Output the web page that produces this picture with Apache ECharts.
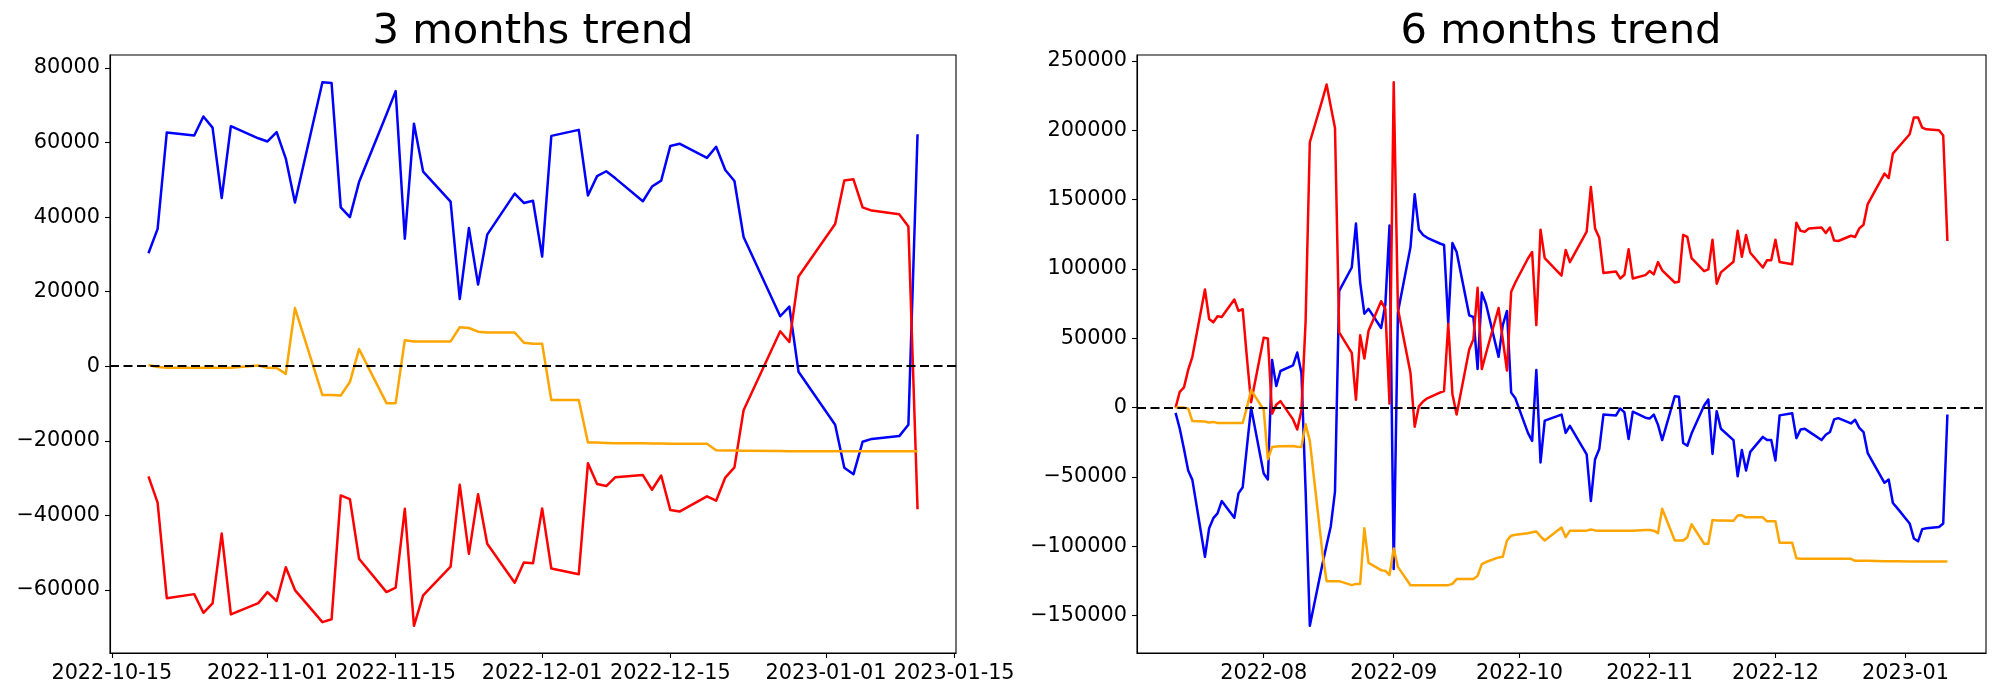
<!DOCTYPE html>
<html>
<head>
<meta charset="utf-8">
<script src="https://cdn.jsdelivr.net/npm/echarts@6/dist/echarts.min.js"></script>
<style>
html,body{margin:0;padding:0;background:#fff;}
#chart{width:2000px;height:700px;}
</style>
</head>
<body>
<div id="chart"></div>
<script>
// ---------------- DATA ----------------
const leftDates = ['2022-10-19','2022-10-20','2022-10-21','2022-10-24','2022-10-25','2022-10-26','2022-10-27','2022-10-28','2022-10-31',
'2022-11-01','2022-11-02','2022-11-03','2022-11-04','2022-11-07','2022-11-08','2022-11-09','2022-11-10','2022-11-11','2022-11-14','2022-11-15',
'2022-11-16','2022-11-17','2022-11-18','2022-11-21','2022-11-22','2022-11-23','2022-11-24','2022-11-25','2022-11-28','2022-11-29','2022-11-30',
'2022-12-01','2022-12-02','2022-12-05','2022-12-06','2022-12-07','2022-12-08','2022-12-09','2022-12-12','2022-12-13','2022-12-14','2022-12-15',
'2022-12-16','2022-12-19','2022-12-20','2022-12-21','2022-12-22','2022-12-23','2022-12-27','2022-12-28','2022-12-29',
'2023-01-02','2023-01-03','2023-01-04','2023-01-05','2023-01-06','2023-01-09','2023-01-10','2023-01-11'];
const leftBlue = [30300,36840,62670,61900,67000,64000,45100,64400,61150,
60300,62800,55700,43900,76200,76000,42600,40000,49400,67600,73800,
34200,65070,52200,44150,18000,37060,21900,35300,46300,43800,44400,
29400,61800,63400,45800,51000,52300,50400,44250,48200,49800,59100,
59700,55900,58860,52650,49700,34650,13400,16000,-1500,
-15700,-27250,-29000,-20270,-19500,-18750,-15700,62240];
const leftRed = [-29540,-36600,-62240,-61150,-66160,-63660,-44900,-66600,-63550,
-60600,-63000,-53950,-60060,-68670,-67900,-34660,-35640,-51670,-60600,-59400,
-38260,-69650,-61480,-53740,-31830,-50360,-34340,-47630,-58100,-52650,-52870,
-38150,-54280,-55800,-26050,-31600,-32160,-29760,-29210,-33140,-29320,-38600,
-39000,-34900,-36080,-29870,-27140,-11800,9370,6500,24070,
38150,49800,50140,42620,41750,40770,37500,-38370];
const leftOrange = [330,-200,-440,-440,-400,-400,-400,-400,200,
-440,-500,-2070,15590,-7740,-7740,-7850,-4250,4580,-9920,-9920,
6980,6650,6650,6650,10460,10250,9270,9050,9050,6320,6000,
6000,-9050,-9050,-20490,-20490,-20600,-20700,-20700,-20750,-20750,-20800,
-20800,-20800,-22560,-22600,-22600,-22650,-22750,-22800,-22800,
-22800,-22800,-22800,-22800,-22800,-22800,-22800,-22800];
const leftXTicks = ['2022-10-15','2022-11-01','2022-11-15','2022-12-01','2022-12-15','2023-01-01','2023-01-15'];
const leftYTicks = [-60000,-40000,-20000,0,20000,40000,60000,80000];

const rightDates = ['2022-07-11','2022-07-12','2022-07-13','2022-07-14','2022-07-15','2022-07-18','2022-07-19','2022-07-20','2022-07-21','2022-07-22',
'2022-07-25','2022-07-26','2022-07-27','2022-07-28','2022-07-29','2022-08-01','2022-08-02','2022-08-03','2022-08-04','2022-08-05',
'2022-08-08','2022-08-09','2022-08-10','2022-08-11','2022-08-12','2022-08-15','2022-08-16','2022-08-17','2022-08-18','2022-08-19',
'2022-08-22','2022-08-23','2022-08-24','2022-08-25','2022-08-26','2022-08-29','2022-08-30','2022-08-31','2022-09-01','2022-09-02',
'2022-09-05','2022-09-06','2022-09-07','2022-09-08','2022-09-09','2022-09-12','2022-09-13','2022-09-14','2022-09-15','2022-09-16',
'2022-09-19','2022-09-20','2022-09-21','2022-09-22','2022-09-23','2022-09-26','2022-09-27','2022-09-28','2022-09-29','2022-09-30',
'2022-10-03','2022-10-04','2022-10-05','2022-10-06','2022-10-07','2022-10-11','2022-10-12','2022-10-13','2022-10-17','2022-10-18',
'2022-10-19','2022-10-20','2022-10-21','2022-10-24','2022-10-25','2022-10-26','2022-10-27','2022-10-28','2022-10-31','2022-11-01',
'2022-11-02','2022-11-03','2022-11-04','2022-11-07','2022-11-08','2022-11-09','2022-11-10','2022-11-11','2022-11-14','2022-11-15',
'2022-11-16','2022-11-17','2022-11-18','2022-11-21','2022-11-22','2022-11-23','2022-11-24','2022-11-25','2022-11-28','2022-11-29',
'2022-11-30','2022-12-01','2022-12-02','2022-12-05','2022-12-06','2022-12-07','2022-12-08','2022-12-09','2022-12-12','2022-12-13',
'2022-12-14','2022-12-15','2022-12-16','2022-12-19','2022-12-20','2022-12-21','2022-12-22','2022-12-23','2022-12-27','2022-12-28',
'2022-12-29','2022-12-30','2023-01-02','2023-01-03','2023-01-04','2023-01-05','2023-01-06','2023-01-09','2023-01-10','2023-01-11'];
const rightBlue = [-3800,-15200,-29900,-45400,-52100,-107500,-87000,-79700,-76200,-67400,
-79400,-61800,-57400,-28400,0,-47500,-51800,34300,15500,26400,
30500,39700,25000,-60000,-157300,-113000,-99000,-85500,-60600,84100,
101000,132700,90200,67700,71200,57400,74100,131200,-116300,68800,
115700,153800,128300,124500,122400,118300,117200,60900,118600,112200,
66500,65300,27800,82900,74700,36600,59500,69700,10800,6700,
-18200,-24000,27200,-39500,-9400,-5000,-18200,-13200,-33700,-67400,
-37200,-29900,-5000,-5600,-600,-3500,-22600,-2900,-7300,-7900,
-5000,-12300,-23400,8200,7900,-25500,-27500,-18700,1500,5900,
-33400,-2600,-15200,-23400,-49500,-30500,-45400,-31900,-21100,-23400,
-23400,-38100,-5600,-4100,-22000,-15800,-15200,-17300,-23400,-19600,
-17600,-8500,-7600,-11400,-8800,-14600,-17600,-32800,-54200,-51800,
-68800,-72300,-83500,-94300,-96400,-87600,-87000,-86100,-83500,-5000];
const rightRed = [0,11400,14600,27200,36600,85200,63900,61500,65900,65300,
77900,69700,70900,36000,3800,50400,49800,-4400,2100,4700,
-8500,-15800,-2000,62400,191300,222000,232900,217000,201500,54200,
39500,5600,52100,35400,55400,76700,71200,2900,234600,71200,
24900,-13800,900,4400,6700,10800,12000,60300,9700,-5000,
41900,49200,86400,27800,39000,71800,49200,26700,83500,90200,
107500,112200,59500,128300,107800,95200,113600,104900,126800,159000,
129200,122400,97000,98100,93100,95800,114200,93100,95500,98400,
96100,104900,99000,90200,90800,124500,123000,107800,98400,99600,
121000,89300,97500,105200,127500,108700,124500,111600,101000,106300,
106300,121000,104900,103400,133300,127400,126800,129200,129800,125900,
129800,120400,120100,123900,123000,129200,131800,146700,168700,165500,
183100,186600,197100,209100,209100,201800,200600,200000,196200,120100];
const rightOrange = [0,0,0,-600,-9700,-10000,-10800,-10300,-11100,-11100,
-11100,-11100,-11100,0,12600,-1500,-37200,-28400,-28100,-27800,
-27600,-28200,-28400,-12000,-24000,-104600,-125100,-125100,-125100,-125100,
-128000,-127100,-127100,-87000,-111900,-117200,-117700,-120700,-101600,-114800,
-128000,-128000,-128000,-128000,-128000,-128000,-128000,-128000,-127100,-123600,
-123600,-123600,-121300,-112800,-111300,-108000,-107500,-95800,-92300,-91700,
-90500,-89900,-89300,-92800,-95800,-86400,-93400,-88700,-88700,-87900,
-88500,-88700,-88700,-88700,-88700,-88700,-88700,-88700,-88200,-88200,
-88700,-90500,-72900,-95800,-95800,-95800,-93400,-84100,-98100,-98100,
-81100,-81400,-81400,-81600,-77800,-77600,-79100,-79100,-79100,-82000,
-82000,-82000,-97500,-97500,-108600,-109000,-109000,-109000,-109000,-109000,
-109000,-109000,-109000,-109000,-110400,-110400,-110400,-110400,-110700,-110700,
-110700,-110700,-111000,-111000,-111000,-111000,-111000,-111000,-111000,-111000];
const rightXTicks = ['2022-08-01','2022-09-01','2022-10-01','2022-11-01','2022-12-01','2023-01-01'];
const rightYTicks = [-150000,-100000,-50000,0,50000,100000,150000,200000,250000];

const titles = ['3 months trend', '6 months trend'];
const seriesColors = ['#0000ff', '#ff0000', '#ffa500'];

// ---------------- HELPERS ----------------
const FONT = 'DejaVu Sans';
function ts(s) { const p = s.split('-').map(Number); return Date.UTC(p[0], p[1] - 1, p[2]); }
function pad2(n) { return (n < 10 ? '0' : '') + n; }
function fmtDay(v) { const d = new Date(v); return d.getUTCFullYear() + '-' + pad2(d.getUTCMonth() + 1) + '-' + pad2(d.getUTCDate()); }
function fmtMonth(v) { const d = new Date(v); return d.getUTCFullYear() + '-' + pad2(d.getUTCMonth() + 1); }
function fmtNum(v) { return v < 0 ? '\u2212' + (-v) : String(v); }
function padRange(arr) {
  let mn = Infinity, mx = -Infinity;
  arr.forEach(v => { if (v < mn) mn = v; if (v > mx) mx = v; });
  const r = mx - mn; return [mn - 0.05 * r, mx + 0.05 * r];
}
function pairs(dates, vals) { return dates.map((d, i) => [ts(d), vals[i]]); }

const leftXR = padRange(leftDates.map(ts));
const leftYR = padRange(leftBlue.concat(leftRed, leftOrange));
const rightXR = padRange(rightDates.map(ts));
const rightYR = padRange(rightBlue.concat(rightRed, rightOrange));

const labelStyle = { fontFamily: FONT, fontSize: 20.8, color: '#000' };
function xAxis(idx, range, ticks, fmt) {
  const vals = ticks.map(ts);
  return {
    type: 'value', gridIndex: idx, min: range[0], max: range[1], position: 'bottom',
    axisLine: { show: true, onZero: false, lineStyle: { color: '#000', width: 1.1 } },
    axisTick: { show: true, length: 5, inside: false, customValues: vals, lineStyle: { color: '#000', width: 1.1 } },
    axisLabel: Object.assign({ customValues: vals, margin: 10, formatter: fmt, hideOverlap: false, showMinLabel: true, showMaxLabel: true }, labelStyle),
    splitLine: { show: false }
  };
}
function yAxis(idx, range, ticks) {
  return {
    type: 'value', gridIndex: idx, min: range[0], max: range[1], position: 'left',
    axisLine: { show: true, onZero: false, lineStyle: { color: '#000', width: 1.1 } },
    axisTick: { show: true, length: 5, customValues: ticks, lineStyle: { color: '#000', width: 1.1 } },
    axisLabel: Object.assign({ customValues: ticks, margin: 10, formatter: fmtNum, showMinLabel: true, showMaxLabel: true }, labelStyle),
    splitLine: { show: false }
  };
}
function lineSeries(idx, dates, vals, color) {
  return {
    type: 'line', xAxisIndex: idx, yAxisIndex: idx, data: pairs(dates, vals),
    showSymbol: false, symbol: 'none', animation: false,
    lineStyle: { color: color, width: 2.5, join: 'round', cap: 'butt' }, itemStyle: { color: color }
  };
}
function zeroLine(idx) {
  return {
    type: 'line', xAxisIndex: idx, yAxisIndex: idx, data: [], animation: false, z: 5,
    markLine: {
      silent: true, symbol: ['none', 'none'], animation: false, label: { show: false },
      lineStyle: { color: '#000', width: 2, type: [9, 4.5] },
      data: [{ yAxis: 0 }]
    }
  };
}

const grids = [
  { left: 110, top: 55, width: 846, height: 598, show: true, borderColor: '#000', borderWidth: 1.1, backgroundColor: 'transparent' },
  { left: 1137, top: 55, width: 849, height: 598, show: true, borderColor: '#000', borderWidth: 1.1, backgroundColor: 'transparent' }
];

const titleStyle = { fontFamily: FONT, fontSize: 41.7, fontWeight: 'normal', color: '#000' };
const option = {
  backgroundColor: '#fff',
  animation: false,
  title: [
    { text: titles[0], left: 533, top: 11, padding: 0, textAlign: 'center', textStyle: titleStyle },
    { text: titles[1], left: 1561, top: 11, padding: 0, textAlign: 'center', textStyle: titleStyle }
  ],
  grid: grids,
  xAxis: [ xAxis(0, leftXR, leftXTicks, fmtDay), xAxis(1, rightXR, rightXTicks, fmtMonth) ],
  yAxis: [ yAxis(0, leftYR, leftYTicks), yAxis(1, rightYR, rightYTicks) ],
  series: [
    lineSeries(0, leftDates, leftBlue, seriesColors[0]),
    lineSeries(0, leftDates, leftRed, seriesColors[1]),
    lineSeries(0, leftDates, leftOrange, seriesColors[2]),
    zeroLine(0),
    lineSeries(1, rightDates, rightBlue, seriesColors[0]),
    lineSeries(1, rightDates, rightRed, seriesColors[1]),
    lineSeries(1, rightDates, rightOrange, seriesColors[2]),
    zeroLine(1)
  ]
};
const chart = echarts.init(document.getElementById('chart'), null, { renderer: 'canvas' });
chart.setOption(option);
</script>
</body>
</html>
